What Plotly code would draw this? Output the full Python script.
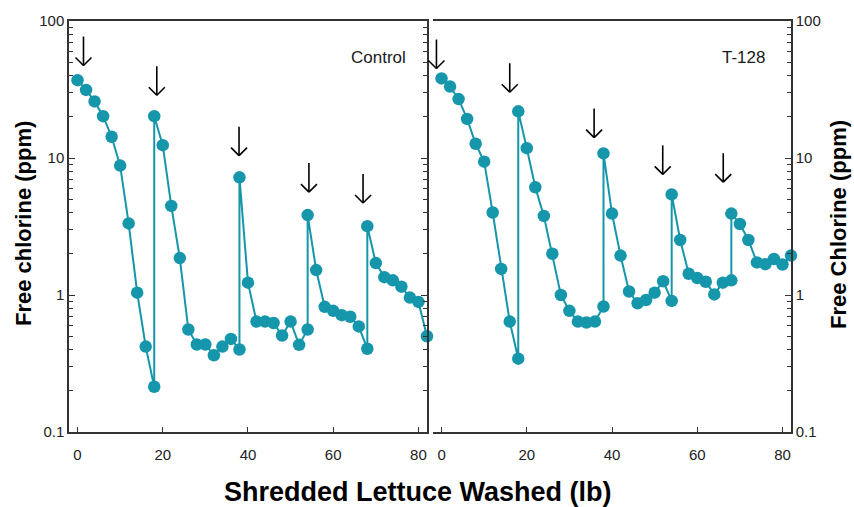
import plotly.graph_objects as go

# ---- data ----
x_lb = [0, 2, 4, 6, 8, 10, 12, 14, 16, 18, 18, 20, 22, 24, 26, 28, 30, 32, 34, 36, 38, 38,
        40, 42, 44, 46, 48, 50, 52, 54, 54, 56, 58, 60, 62, 64, 66, 68, 68,
        70, 72, 74, 76, 78, 80, 82]

control_ppm = [37, 31.4, 25.9, 20.2, 14.3, 8.8, 3.33, 1.04, 0.42, 0.214, 20.2,
               12.4, 4.47, 1.86, 0.56, 0.435, 0.435, 0.363, 0.42, 0.478, 0.40, 7.23,
               1.23, 0.64, 0.64, 0.625, 0.506, 0.64, 0.433, 0.56, 3.83,
               1.52, 0.82, 0.766, 0.713, 0.694, 0.59, 0.405, 3.18,
               1.71, 1.35, 1.28, 1.15, 0.957, 0.89, 0.50]

t128_ppm = [38.1, 33.2, 26.9, 19.3, 12.7, 9.4, 4.0, 1.55, 0.64, 0.343, 21.9,
            11.8, 6.12, 3.78, 2.0, 1.0, 0.766, 0.64, 0.63, 0.64, 0.824, 10.8,
            3.93, 1.94, 1.06, 0.87, 0.92, 1.04, 1.26, 0.905, 5.42,
            2.52, 1.43, 1.33, 1.25, 1.01, 1.23, 1.28, 3.93,
            3.3, 2.52, 1.73, 1.68, 1.83, 1.67, 1.94]

# chlorine addition arrows (x position, tip value)
control_arrow_x = [1.4, 18.6, 37.9, 54.3, 67.0]
control_arrow_tip = [47.3, 28.7, 10.4, 5.64, 4.69]
t128_arrow_x = [-1.2, 16.0, 35.8, 51.9, 66.1]
t128_arrow_tip = [45.0, 30.2, 14.1, 7.6, 6.66]

x_range = [-2, 82]
x_ticks = [0, 20, 40, 60, 80]
y_ticks = [0.1, 1, 10, 100]
y_ticktext = ["0.1", "1", "10", "100"]
y_minor = [m * d for d in (0.1, 1, 10) for m in range(2, 10)]

panel_labels = ["Control", "T-128"]

# ---- style ----
TEAL = "#1596ab"
AX = "#333333"
FONT = "Liberation Sans, Arial, sans-serif"

fig = go.Figure()
for xa, ya, vals in (("x", "y", control_ppm), ("x2", "y2", t128_ppm)):
    fig.add_trace(go.Scatter(
        x=x_lb, y=vals, xaxis=xa, yaxis=ya, mode="lines+markers",
        line=dict(color=TEAL, width=2),
        marker=dict(color=TEAL, size=12.5),
        cliponaxis=False, showlegend=False))

xcommon = dict(range=x_range, tickvals=x_ticks, ticks="inside", ticklen=5,
               tickcolor=AX, showline=True, linecolor=AX, linewidth=1.5,
               mirror=True, showgrid=False, zeroline=False, ticklabelstandoff=8,
               tickfont=dict(family=FONT, size=15, color="#222222"))
ycommon = dict(type="log", range=[-1, 2], tickvals=y_ticks, ticktext=y_ticktext,
               ticks="inside", ticklen=6, tickcolor=AX, showline=True,
               linecolor=AX, linewidth=1.5, showgrid=False, zeroline=False,
               minor=dict(tickvals=y_minor, ticks="inside", ticklen=4, tickcolor=AX),
               tickfont=dict(family=FONT, size=15, color="#222222"))

fig.update_layout(
    width=854, height=507,
    margin=dict(l=69, r=63, t=17, b=75),
    plot_bgcolor="white", paper_bgcolor="white",
    xaxis=dict(domain=[0, 0.4958], anchor="y", **xcommon),
    xaxis2=dict(domain=[0.5042, 1], anchor="y2", **xcommon),
    yaxis=dict(anchor="x", side="left", mirror="ticks", **ycommon),
    yaxis2=dict(anchor="x2", side="right", mirror=False, **ycommon),
)

# arrows drawn as thin line shapes anchored at the tip (pixel-sized);
# x given as fraction of the axis domain so heads are not clipped at panel edges
shapes = []
ARROW_LEN = 29
HEAD = 8
for xr, yr, xs, tips in (("x", "y", control_arrow_x, control_arrow_tip),
                         ("x2", "y2", t128_arrow_x, t128_arrow_tip)):
    for xv, tv in zip(xs, tips):
        xfrac = (xv - x_range[0]) / (x_range[1] - x_range[0])
        base = dict(type="line", xref=f"{xr} domain", yref=yr,
                    xsizemode="pixel", ysizemode="pixel",
                    xanchor=xfrac, yanchor=tv, line=dict(color="black", width=1.6),
                    layer="above")
        shapes.append(dict(base, x0=0, x1=0, y0=0, y1=ARROW_LEN))
        shapes.append(dict(base, x0=-HEAD, x1=0, y0=HEAD, y1=0))
        shapes.append(dict(base, x0=HEAD, x1=0, y0=HEAD, y1=0))

ann = []
ann.append(dict(x=0.428, y=0.91, xref="paper", yref="paper", text=panel_labels[0],
                showarrow=False, xanchor="center", yanchor="middle",
                font=dict(family=FONT, size=17, color="#1a1a1a")))
ann.append(dict(x=0.934, y=0.91, xref="paper", yref="paper", text=panel_labels[1],
                showarrow=False, xanchor="center", yanchor="middle",
                font=dict(family=FONT, size=17, color="#1a1a1a")))

ann.append(dict(x=0.483, y=-0.147, xref="paper", yref="paper",
                text="<b>Shredded Lettuce Washed (lb)</b>", showarrow=False,
                xanchor="center", yanchor="middle",
                font=dict(family=FONT, size=27, color="black")))
ann.append(dict(x=-0.0637, y=0.506, xref="paper", yref="paper",
                text="<b>Free chlorine (ppm)</b>", showarrow=False, textangle=-90,
                xanchor="center", yanchor="middle",
                font=dict(family=FONT, size=22, color="black")))
ann.append(dict(x=1.065, y=0.506, xref="paper", yref="paper",
                text="<b>Free Chlorine (ppm)</b>", showarrow=False, textangle=-90,
                xanchor="center", yanchor="middle",
                font=dict(family=FONT, size=22, color="black")))

fig.update_layout(annotations=ann, shapes=shapes)
fig.write_html("out.html")
